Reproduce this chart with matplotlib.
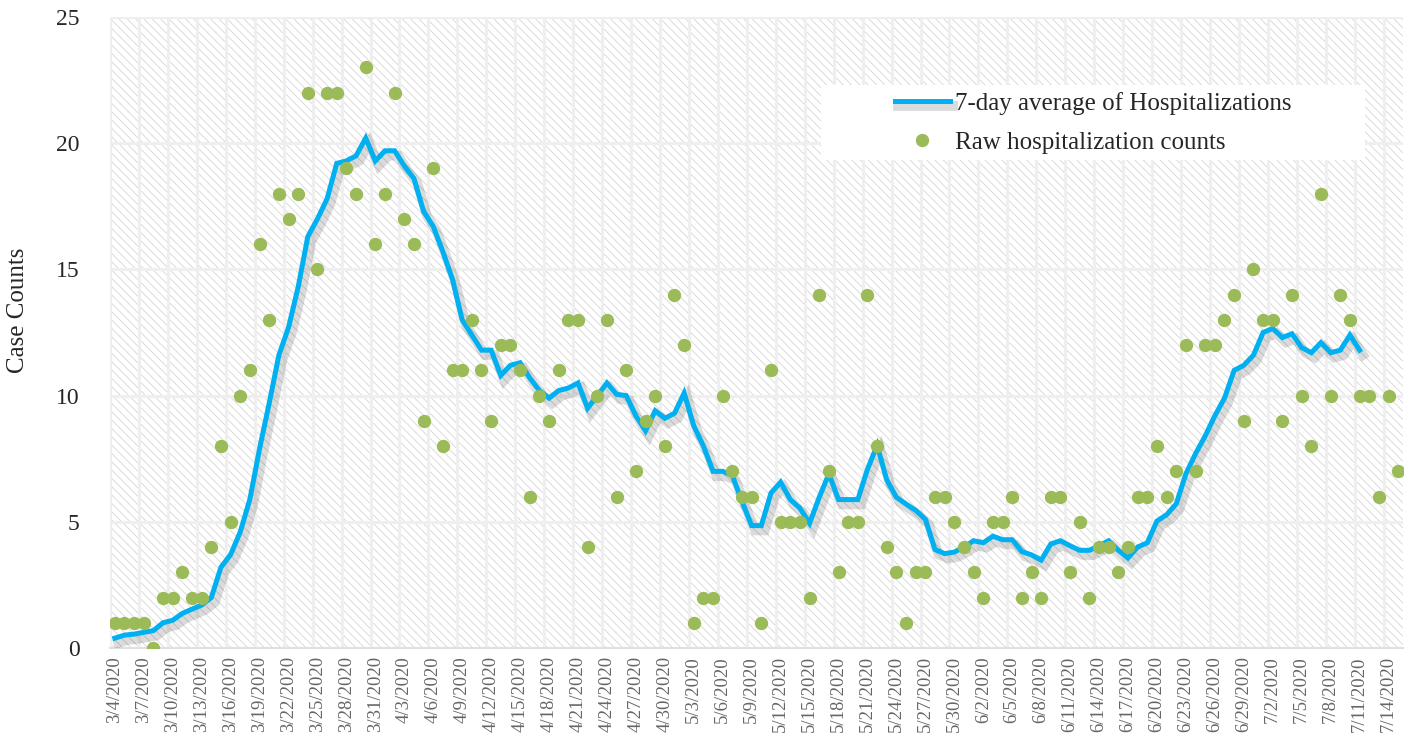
import matplotlib
matplotlib.use("Agg")
import matplotlib.pyplot as plt
import matplotlib.patheffects as pe
from matplotlib.patches import Rectangle
import pandas as pd

# daily dates 3/4/2020 .. 7/15/2020
dates = pd.date_range("2020-03-04", "2020-07-15")
date_labels = [f"{d.month}/{d.day}/{d.year}" for d in dates]

raw_counts = [1, 1, 1, 1, 0, 2, 2, 3, 2, 2,
              4, 8, 5, 10, 11, 16, 13, 18, 17, 18,
              22, 15, 22, 22, 19, 18, 23, 16, 18, 22,
              17, 16, 9, 19, 8, 11, 11, 13, 11, 9,
              12, 12, 11, 6, 10, 9, 11, 13, 13, 4,
              10, 13, 6, 11, 7, 9, 10, 8, 14, 12,
              1, 2, 2, 10, 7, 6, 6, 1, 11, 5,
              5, 5, 2, 14, 7, 3, 5, 5, 14, 8,
              4, 3, 1, 3, 3, 6, 6, 5, 4, 3,
              2, 5, 5, 6, 2, 3, 2, 6, 6, 3,
              5, 2, 4, 4, 3, 4, 6, 6, 8, 6,
              7, 12, 7, 12, 12, 13, 14, 9, 15, 13,
              13, 9, 14, 10, 8, 18, 10, 14, 13, 10,
              10, 6, 10, 7]

avg_7day = [0.39, 0.51, 0.55, 0.62, 0.69, 1.0, 1.1, 1.37, 1.54, 1.7,
            2.0, 3.2, 3.7, 4.6, 5.9, 7.9, 9.7, 11.6, 12.7, 14.3,
            16.3, 17.0, 17.8, 19.2, 19.3, 19.5, 20.2, 19.3, 19.7, 19.7,
            19.1, 18.6, 17.3, 16.7, 15.7, 14.6, 13.0, 12.4, 11.8, 11.8,
            10.8, 11.2, 11.3, 10.7, 10.2, 9.9, 10.2, 10.3, 10.5, 9.5,
            10.0, 10.5, 10.05, 10.0, 9.2, 8.6, 9.4, 9.1, 9.3, 10.1,
            8.8, 8.0, 7.0, 7.0, 6.83, 5.8, 4.85, 4.85, 6.14, 6.57,
            5.88, 5.54, 4.94, 5.97, 6.9, 5.88, 5.88, 5.88, 7.08, 8.03,
            6.66, 5.97, 5.7, 5.45, 5.1, 3.9, 3.74, 3.8, 4.0, 4.25,
            4.17, 4.43, 4.29, 4.29, 3.82, 3.69, 3.48, 4.12, 4.25, 4.05,
            3.87, 3.87, 4.05, 4.25, 3.87, 3.57, 4.0, 4.17, 5.03, 5.28,
            5.71, 6.9, 7.7, 8.4, 9.2, 9.9, 11.0, 11.2, 11.6, 12.5,
            12.66, 12.3, 12.45, 11.9, 11.7, 12.1, 11.7, 11.8, 12.4, 11.8]

serif = ["Liberation Serif", "DejaVu Serif"]
plt.rcParams["hatch.linewidth"] = 0.6

fig = plt.figure(figsize=(14.13, 7.46), dpi=100)
ax = fig.add_axes([110 / 1413, 98 / 746, 1293 / 1413, 631 / 746])

# hatched plot area
ax.add_patch(Rectangle((0, 0), 1, 1, transform=ax.transAxes, facecolor="white",
                       edgecolor="#d6d6d6", hatch="\\\\\\\\", lw=0, zorder=0))

n = len(raw_counts)
xs = list(range(n))
ax.set_xlim(-0.5, n - 0.5)
ax.set_ylim(0, 25)

# grid bands
for k in range(0, n + 1, 3):
    ax.axvline(k - 0.5, color="#efefef", lw=2.2, zorder=1)
for v in range(5, 26, 5):
    ax.axhline(v, color="#efefef", lw=2.2, zorder=1)

ax.plot(xs[:len(avg_7day)], avg_7day, color="#00B0F0", lw=3.6, zorder=3,
        solid_joinstyle="miter",
        path_effects=[pe.SimpleLineShadow(offset=(2.5, -3.5), shadow_color="black",
                                          alpha=0.14, linewidth=7),
                      pe.Normal()],
        label="7-day average of Hospitalizations")
ax.plot(xs, raw_counts, ls="none", marker="o", markersize=9.6, color="#9BBB59",
        markeredgewidth=0, zorder=4, label="Raw hospitalization counts")

ax.set_xticks(xs[::3])
ax.set_xticklabels(date_labels[::3], rotation=90, family=serif, fontsize=13.5,
                   color="#666666")
ax.set_yticks(range(0, 26, 5))
ax.set_yticklabels([str(v) for v in range(0, 26, 5)], family=serif, fontsize=17,
                   color="#262626")
ax.tick_params(axis="x", length=0, pad=6)
ax.tick_params(axis="y", length=0, pad=22)

for s in ["top", "right", "left"]:
    ax.spines[s].set_visible(False)
ax.spines["bottom"].set_color("#e0e0e0")
ax.spines["bottom"].set_linewidth(1.5)

fig.text(18 / 1413, 1 - 310 / 746, "Case Counts", rotation=90, ha="center",
         va="center", family=serif, fontsize=18, color="#262626")

# legend box
ax.add_patch(Rectangle((0.550, 0.773), 0.4206, 0.119, transform=ax.transAxes,
                       facecolor="white", edgecolor="none", zorder=5))
leg = ax.legend(loc="center", bbox_to_anchor=(0.7603, 0.8325), frameon=False,
                prop={"family": serif, "size": 18}, handlelength=2.2,
                handletextpad=0.2, labelspacing=0.65, numpoints=1)
leg.set_zorder(6)
for t in leg.get_texts():
    t.set_color("#262626")

fig.savefig("out.png", dpi=100)
